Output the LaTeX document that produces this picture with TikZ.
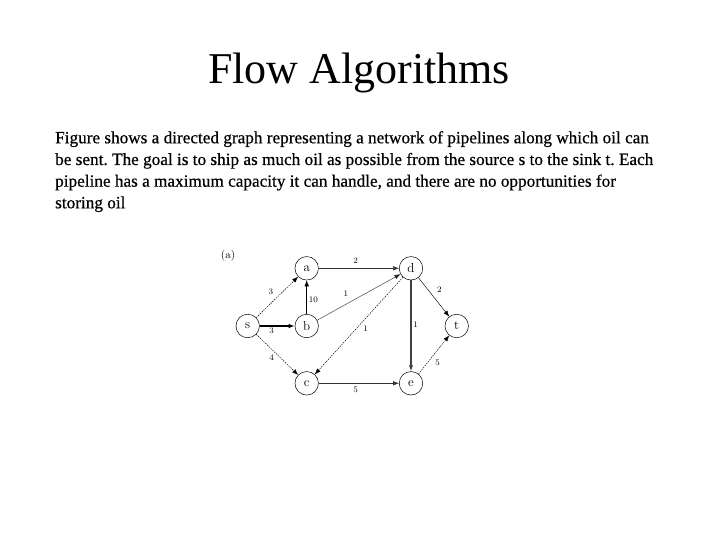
\documentclass[tikz,border=0pt]{standalone}
\usepackage{fontspec}
\setmainfont{Liberation Serif}
\newfontfamily\bodyfont[FakeBold=0.5]{Liberation Serif}
\newfontfamily\graphfont{Latin Modern Roman}
\usetikzlibrary{arrows.meta}
\frenchspacing
\begin{document}
\begin{tikzpicture}[x=1pt,y=-1pt,
  vert/.style={circle,draw,line width=0.5pt,minimum size=23.5pt,inner sep=0pt,font=\graphfont\fontsize{13}{13}\selectfont},
  edgeb/.style={-{Latex[length=6pt,width=4.5pt]},line width=0.5pt},
  thickedge/.style={edgeb,line width=1.1pt},
  dashedge/.style={edgeb,line width=0.45pt,dash pattern=on 1.5pt off 1pt},
  grayedge/.style={edgeb,draw=black!75,line width=1.4pt},
  lab/.style={font=\graphfont\fontsize{8.5}{8.5}\selectfont,inner sep=0pt},
  bodyline/.style={anchor=base west,inner sep=0pt,font=\bodyfont\fontsize{17.2}{17.2}\selectfont}]
\useasboundingbox (0,0) rectangle (720,540);
\fill[white] (0,0) rectangle (720,540);
\node[anchor=base,inner sep=0pt,font=\fontsize{44}{44}\selectfont] (title) at (359,83.3) {Flow Algorithms};
\node[bodyline] (l1) at (55,143.3) {Figure shows a directed graph representing a network of pipelines along which oil can};
\node[bodyline] (l2) at (55,165.0) {be sent. The goal is to ship as much oil as possible from the source s to the sink t. Each};
\node[bodyline] (l3) at (55,186.7) {pipeline has a maximum capacity it can handle, and there are no opportunities for};
\node[bodyline] (l4) at (55,208.3) {storing oil};
% graph
\node[lab,font=\graphfont\fontsize{11}{11}\selectfont] (cap) at (228,256) {(a)};
\node[vert] (a) at (306.7,268.3) {a};
\node[vert] (d) at (411,268.3) {d};
\node[vert] (s) at (247.7,326) {s};
\node[vert] (b) at (306.7,326) {b};
\node[vert] (t) at (456.7,326) {t};
\node[vert] (c) at (306.7,383.3) {c};
\node[vert] (e) at (411,383.3) {e};
\draw[dashedge] (s) -- (a);
\draw[thickedge] (s) -- (b);
\draw[dashedge] (s) -- (c);
\draw[edgeb] (b) -- (a);
\draw[edgeb,draw=black!80] (a) -- (d);
\draw[edgeb,line width=0.4pt,draw=black!85] (b) -- (d);
\draw[dashedge] (d) -- (c);
\draw[grayedge] (d) -- (e);
\draw[edgeb,line width=0.45pt] (d) -- (t);
\draw[dashedge] (e) -- (t);
\draw[edgeb,line width=0.45pt,draw=black!80] (c) -- (e);
\node[lab] (l_sa) at (271,292) {3};
\node[lab] (l_sb) at (271.7,331) {3};
\node[lab] (l_sc) at (271.7,357.3) {4};
\node[lab] (l_ba) at (313.3,300) {10};
\node[lab] (l_ad) at (355.7,261) {2};
\node[lab] (l_bd) at (346,294) {1};
\node[lab] (l_dc) at (365.7,328.3) {1};
\node[lab] (l_de) at (415.7,325) {1};
\node[lab] (l_dt) at (439.3,290) {2};
\node[lab] (l_et) at (437.7,362.7) {5};
\node[lab] (l_ce) at (355.7,389.3) {5};
\end{tikzpicture}
\end{document}
